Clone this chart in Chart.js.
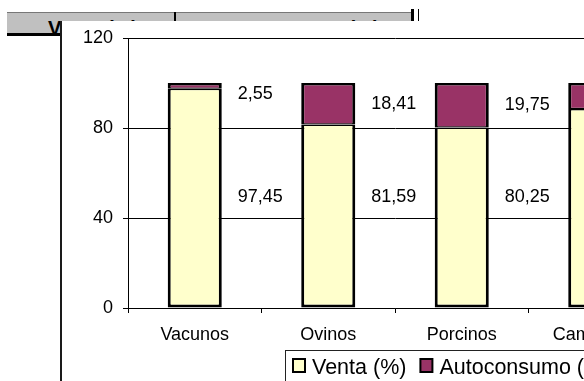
<!DOCTYPE html>
<html>
<head>
<meta charset="utf-8">
<script src="https://cdn.jsdelivr.net/npm/chart.js@4"></script>
<style>
  html, body { margin: 0; padding: 0; background: #fff; overflow: hidden; width: 584px; height: 381px; }
  .hdr { position: absolute; left: 7px; top: 12px; width: 406px; height: 20px; background: #c0c0c0;
         border-top: 1px solid #777; border-bottom: 3px solid #000; }
  .cell { position: absolute; top: 17px; height: 20px; line-height: 20px; text-align: center;
          font: bold 20px "Liberation Sans", Arial, sans-serif; color: #000; white-space: nowrap; }
  .vline { position: absolute; background: #000; }
  #box { position: absolute; left: 60px; top: 21px; width: 700px; height: 400px; background: #fff;
         border-left: 2px solid #1a1a1a; }
  #chart { position: absolute; left: 0; top: 0; }
</style>
</head>
<body>
<div class="hdr"></div>
<div class="cell" style="left:9px;width:168px;">Venta (%)</div>
<div class="cell" style="left:175px;width:238px;">Autoconsumo (%)</div>
<div class="vline" style="left:174px;top:12px;width:2px;height:22px;"></div>
<div class="vline" style="left:411px;top:9px;width:3px;height:26px;"></div>
<div class="vline" style="left:418px;top:9px;width:1px;height:14px;"></div>
<div id="box"><canvas id="chart" width="760" height="360"></canvas></div>

<script>
const categories = ['Vacunos', 'Ovinos', 'Porcinos', 'Camélidos'];
const venta = [97.45, 81.59, 80.25, 88.5];
const autoconsumo = [2.55, 18.41, 19.75, 11.5];
const yTicks = [0, 40, 80, 120];

const FONT = '"Liberation Sans", Arial, sans-serif';

// etiquetas de valores a la derecha de cada barra
const valueLabels = {
  id: 'valueLabels',
  afterDatasetsDraw(chart) {
    const ctx = chart.ctx;
    const y = chart.scales.y;
    ctx.save();
    ctx.font = '18px ' + FONT;
    ctx.fillStyle = '#000';
    ctx.textAlign = 'left';
    ctx.textBaseline = 'middle';
    chart.data.datasets.forEach((ds, i) => {
      const meta = chart.getDatasetMeta(i);
      meta.data.forEach((bar, j) => {
        let base = 0;
        for (let k = 0; k < i; k++) base += chart.data.datasets[k].data[j];
        let mid = base + ds.data[j] / 2;
        mid = i === 0 ? Math.max(mid, 49.5) : Math.min(mid, 95);
        const txt = ds.data[j].toFixed(2).replace('.', ',');
        ctx.fillText(txt, bar.x + bar.width / 2 + 16, y.getPixelForValue(mid));
      });
    });
    ctx.restore();
  }
};

// leyenda con marco, como en Excel
const boxLegend = {
  id: 'boxLegend',
  afterDraw(chart) {
    const ctx = chart.ctx;
    ctx.save();
    ctx.strokeStyle = '#222';
    ctx.lineWidth = 1;
    ctx.strokeRect(223.5, 329.5, 360, 60);
    ctx.font = '21.5px ' + FONT;
    ctx.textBaseline = 'middle';
    let x = 231;
    chart.data.datasets.forEach(ds => {
      ctx.fillStyle = ds.backgroundColor;
      ctx.fillRect(x, 338, 12, 13);
      ctx.strokeStyle = '#000';
      ctx.lineWidth = 2;
      ctx.strokeRect(x, 338, 12, 13);
      ctx.fillStyle = '#000';
      ctx.fillText(ds.label, x + 19, 347);
      x += 19 + ctx.measureText(ds.label).width + 14;
    });
    ctx.restore();
  }
};

new Chart(document.getElementById('chart'), {
  type: 'bar',
  data: {
    labels: categories,
    datasets: [
      {
        label: 'Venta (%)',
        data: venta,
        backgroundColor: '#ffffcc',
        borderColor: '#000',
        borderWidth: { left: 3, right: 3, bottom: 3, top: 1.5 },
        borderSkipped: false,
        categoryPercentage: 1,
        barPercentage: 0.405
      },
      {
        label: 'Autoconsumo (%)',
        data: autoconsumo,
        backgroundColor: '#993366',
        borderColor: '#000',
        borderWidth: { left: 3, right: 3, top: 2.5, bottom: 1.2 },
        borderSkipped: false,
        categoryPercentage: 1,
        barPercentage: 0.405
      }
    ]
  },
  options: {
    responsive: false,
    animation: false,
    layout: { padding: { top: 17, right: 160, left: 0, bottom: 0 } },
    plugins: { legend: { display: false }, tooltip: { enabled: false } },
    scales: {
      x: {
        stacked: true,
        grid: { drawOnChartArea: false, color: '#000', tickLength: 5, offset: true },
        border: { color: '#000', width: 1 },
        ticks: { color: '#000', font: { family: FONT, size: 18 }, padding: 11, maxRotation: 0, autoSkip: false },
        afterFit(scale) { scale.height = 73; }
      },
      y: {
        stacked: true,
        min: 0,
        max: 120,
        afterBuildTicks(scale) { scale.ticks = yTicks.map(v => ({ value: v })); },
        grid: { color: '#000', tickLength: 5 },
        border: { color: '#000', width: 1 },
        ticks: { color: '#000', font: { family: FONT, size: 18 }, padding: 10 },
        afterFit(scale) {
          scale.width = 66;
          scale.paddingTop = 0;
          scale.paddingBottom = 0;
        }
      }
    }
  },
  plugins: [valueLabels, boxLegend]
});
</script>
</body>
</html>
